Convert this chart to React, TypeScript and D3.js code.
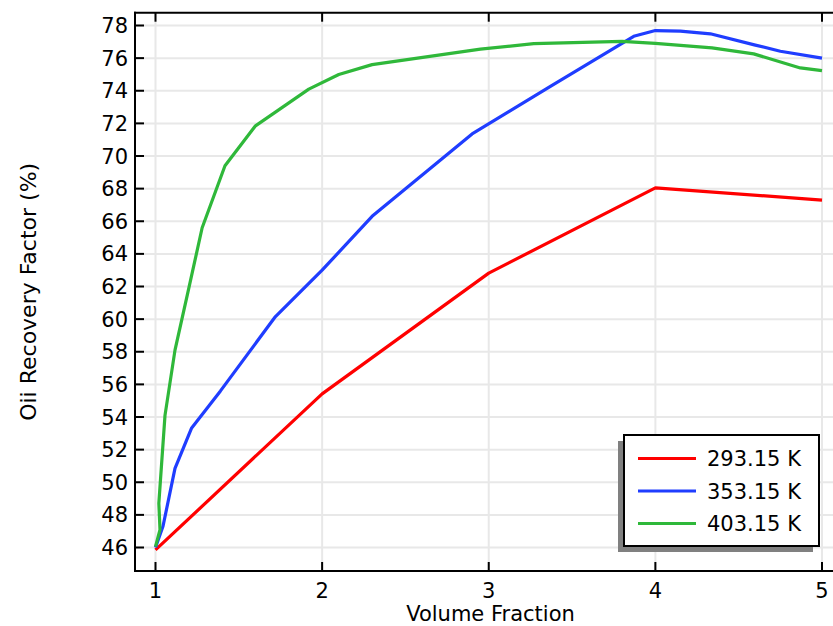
import React from "react";
import * as d3 from "d3";

const xTicks = [1, 2, 3, 4, 5];
const yTicks = [46, 48, 50, 52, 54, 56, 58, 60, 62, 64, 66, 68, 70, 72, 74, 76, 78];

const redX = [1, 2, 3, 4, 5];
const redY = [45.85, 55.42, 62.82, 68.05, 67.3];

const blueX = [1, 1.045, 1.117, 1.217, 1.39, 1.72, 2.0, 2.3, 2.9, 3.37, 3.87, 4.0, 4.15, 4.33, 4.6, 4.75, 5.0];
const blueY = [46.0, 47.3, 50.85, 53.33, 55.6, 60.16, 63.0, 66.3, 71.35, 74.27, 77.34, 77.69, 77.65, 77.49, 76.8, 76.42, 76.0];

const greenX = [1, 1.027, 1.02, 1.057, 1.117, 1.2, 1.28, 1.417, 1.6, 1.92, 2.1, 2.3, 2.95, 3.27, 3.8, 4.0, 4.34, 4.59, 4.87, 5.0];
const greenY = [46.05, 47.1, 48.7, 54.1, 58.1, 61.9, 65.6, 69.4, 71.85, 74.1, 75.0, 75.6, 76.55, 76.89, 77.03, 76.9, 76.63, 76.26, 75.4, 75.23];

const seriesNames = ["293.15 K", "353.15 K", "403.15 K"];
const seriesColors = ["#ff0000", "#1f3dff", "#2fb83a"];

const W = 833;
const H = 626;
const left = 135;
const right = 842;
const top = 12.7;
const bottom = 571;

export default function App() {
  const x = d3.scaleLinear().domain([1, 5]).range([155.5, 822]);
  const y = d3.scaleLinear().domain([46, 78]).range([547.5, 25.5]);
  const line = d3
    .line<[number, number]>()
    .x((d) => x(d[0]))
    .y((d) => y(d[1]));

  const series = [
    redX.map((v, i) => [v, redY[i]] as [number, number]),
    blueX.map((v, i) => [v, blueY[i]] as [number, number]),
    greenX.map((v, i) => [v, greenY[i]] as [number, number]),
  ];

  const font = "'DejaVu Sans', sans-serif";
  const tickLen = 9;
  const legX = 624;
  const legY = 435;
  const legW = 195;
  const legH = 111;

  return (
    <svg
      width={W}
      height={H}
      style={{ position: "absolute", left: 0, top: 0, background: "#fff" }}
      fontFamily={font}
    >
      <defs>
        <clipPath id="plotclip">
          <rect x={left} y={top} width={right - left} height={bottom - top} />
        </clipPath>
      </defs>
      <rect x={0} y={0} width={W} height={H} fill="#fff" />
      {/* grid */}
      <g stroke="#e8e8e8" strokeWidth={2}>
        {xTicks.map((t) => (
          <line key={"gx" + t} x1={x(t)} x2={x(t)} y1={top} y2={bottom} />
        ))}
        {yTicks.map((t) => (
          <line key={"gy" + t} x1={left} x2={right} y1={y(t)} y2={y(t)} />
        ))}
      </g>
      {/* data */}
      <g clipPath="url(#plotclip)" fill="none" strokeWidth={3.2} strokeLinejoin="round">
        {series.map((s, i) => (
          <path key={i} d={line(s) || ""} stroke={seriesColors[i]} />
        ))}
      </g>
      {/* frame */}
      <g stroke="#000" strokeWidth={2} fill="none">
        <line x1={left} x2={left} y1={top - 1} y2={bottom + 1} />
        <line x1={left - 1} x2={right} y1={top} y2={top} />
        <line x1={left - 1} x2={right} y1={bottom} y2={bottom} />
        {xTicks.map((t) => (
          <g key={"tx" + t}>
            <line x1={x(t)} x2={x(t)} y1={bottom} y2={bottom - tickLen} />
            <line x1={x(t)} x2={x(t)} y1={top} y2={top + tickLen} />
          </g>
        ))}
        {yTicks.map((t) => (
          <line key={"ty" + t} x1={left} x2={left + tickLen} y1={y(t)} y2={y(t)} />
        ))}
      </g>
      {/* tick labels */}
      <g fontSize={21} fill="#000">
        {xTicks.map((t) => (
          <text key={"lx" + t} x={x(t)} y={597.5} textAnchor="middle">
            {t}
          </text>
        ))}
        {yTicks.map((t) => (
          <text key={"ly" + t} x={128} y={y(t) + 7.6} textAnchor="end">
            {t}
          </text>
        ))}
      </g>
      {/* axis titles */}
      <text x={(left + right) / 2 + 2} y={620.5} textAnchor="middle" fontSize={21} fill="#000">
        Volume Fraction
      </text>
      <text
        transform={`translate(36,${(top + bottom) / 2}) rotate(-90)`}
        textAnchor="middle"
        fontSize={22}
        fill="#000"
      >
        Oii Recovery Factor (%)
      </text>
      {/* legend */}
      <rect x={legX - 6} y={legY + 6} width={legW} height={legH} fill="#808080" />
      <rect x={legX} y={legY} width={legW} height={legH} fill="#fff" stroke="#000" strokeWidth={2} />
      {seriesNames.map((n, i) => (
        <g key={n}>
          <line
            x1={638}
            x2={696}
            y1={458.5 + i * 32.5}
            y2={458.5 + i * 32.5}
            stroke={seriesColors[i]}
            strokeWidth={3.2}
          />
          <text x={707} y={458.5 + i * 32.5 + 7.6} fontSize={21} fill="#000">
            {n}
          </text>
        </g>
      ))}
    </svg>
  );
}
